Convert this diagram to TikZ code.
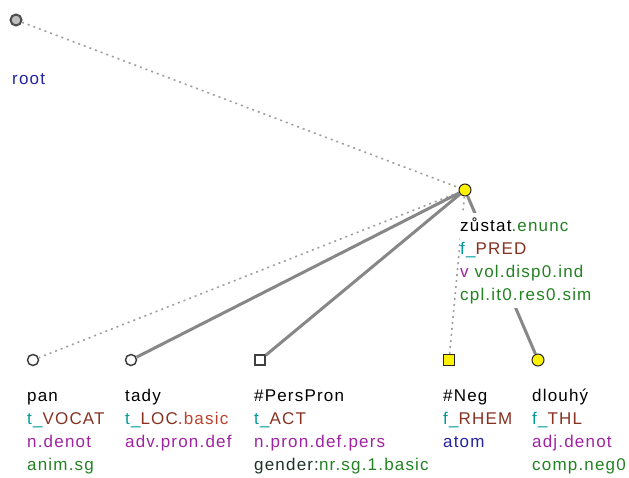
\documentclass[tikz,border=0pt]{standalone}
\usepackage{fontspec}
\setmainfont{Liberation Sans}[LetterSpace=7]
\usepackage{tikz}

\definecolor{tprefix}{RGB}{0,155,155}
\definecolor{functor}{RGB}{135,50,35}
\definecolor{subfunc}{RGB}{190,65,45}
\definecolor{sempos}{RGB}{160,35,165}
\definecolor{gram}{RGB}{35,130,35}
\definecolor{ntype}{RGB}{35,35,165}
\definecolor{gendr}{RGB}{30,50,40}
\definecolor{edgegray}{RGB}{135,135,135}
\definecolor{dotgray}{RGB}{160,160,160}

\begin{document}
\begin{tikzpicture}[
  x=1pt, y=-1pt,
  every node/.style={font=\fontsize{17}{23}\selectfont},
  lbl/.style={anchor=base west, align=left, inner xsep=0pt, inner ysep=0pt},
  tnode/.style={circle, draw=black!75, line width=1.5pt, fill=white, minimum size=11pt, inner sep=0pt},
  gnode/.style={rectangle, draw=black!75, line width=1.5pt, fill=white, minimum size=10pt, inner sep=0pt},
  ynode/.style={circle, draw=black!85, line width=1pt, fill=yellow, minimum size=12pt, inner sep=0pt},
  ygnode/.style={rectangle, draw=black!85, line width=1pt, fill=yellow, minimum size=11pt, inner sep=0pt},
  rnode/.style={circle, draw=black!70, line width=2pt, fill=black!25, minimum size=11pt, inner sep=0pt},
  hidden/.style={draw=dotgray, line width=1.6pt, dash pattern=on 2pt off 4pt},
  edge/.style={draw=edgegray, line width=3pt}
]
\useasboundingbox (0,0) rectangle (629,477);

% nodes of the tree
\node[rnode] (root) at (16,20) {};
\node[ynode] (zustat) at (465,190) {};
\node[tnode] (pan) at (33,360) {};
\node[tnode] (tady) at (131,360) {};
\node[gnode] (perspron) at (260,360) {};
\node[ygnode] (neg) at (449,360) {};
\node[ynode] (dlouhy) at (538,360) {};

% edges
\draw[hidden] (root) -- (zustat);
\draw[hidden] (zustat) -- (pan);
\draw[edge] (zustat) -- (tady);
\draw[edge] (zustat) -- (perspron);
\draw[hidden] (zustat) -- (neg);
\draw[edge] (zustat) -- (dlouhy);

% labels (anchored at the baseline of their last line)
\node[lbl] (rootL) at (12,84) {\textcolor{ntype}{root}};
\node[lbl, fill=white, inner ysep=4pt] (zustatL) at (460,300)
  {zůstat\textcolor{gram}{.enunc}\\
   \textcolor{tprefix}{f\_}\textcolor{functor}{PRED}\\
   \textcolor{sempos}{v} \textcolor{gram}{vol.disp0.ind}\\
   \textcolor{gram}{cpl.it0.res0.sim}};
\node[lbl] (panL) at (27,470)
  {pan\\
   \textcolor{tprefix}{t\_}\textcolor{functor}{VOCAT}\\
   \textcolor{sempos}{n.denot}\\
   \textcolor{gram}{anim.sg}};
\node[lbl] (tadyL) at (125,447)
  {tady\\
   \textcolor{tprefix}{t\_}\textcolor{functor}{LOC}\textcolor{subfunc}{.basic}\\
   \textcolor{sempos}{adv.pron.def}};
\node[lbl] (persL) at (254,470)
  {\#PersPron\\
   \textcolor{tprefix}{t\_}\textcolor{functor}{ACT}\\
   \textcolor{sempos}{n.pron.def.pers}\\
   \textcolor{gendr}{gender:}\textcolor{gram}{nr.sg.1.basic}};
\node[lbl] (negL) at (443,447)
  {\#Neg\\
   \textcolor{tprefix}{f\_}\textcolor{functor}{RHEM}\\
   \textcolor{ntype}{atom}};
\node[lbl] (dlouhyL) at (532,470)
  {dlouhý\\
   \textcolor{tprefix}{f\_}\textcolor{functor}{THL}\\
   \textcolor{sempos}{adj.denot}\\
   \textcolor{gram}{comp.neg0}};

\end{tikzpicture}
\end{document}
